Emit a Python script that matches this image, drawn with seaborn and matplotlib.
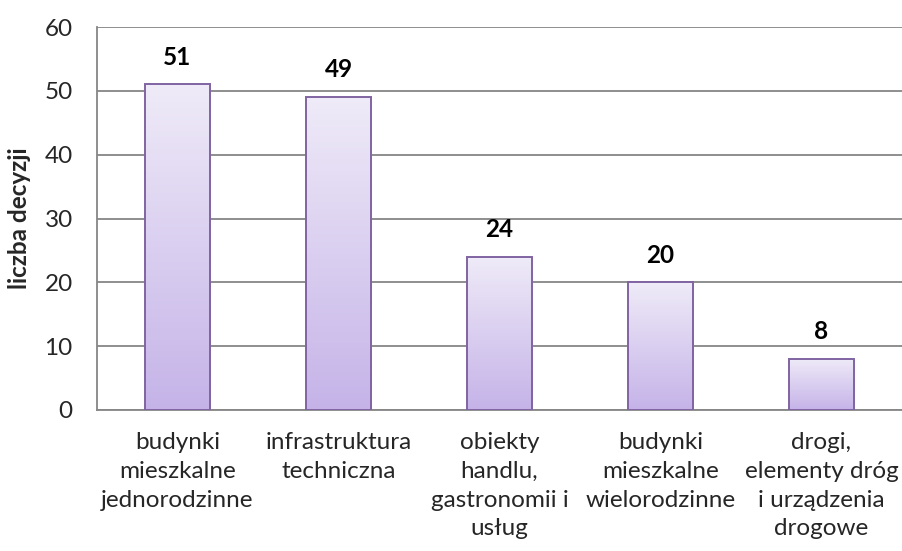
import numpy as np
import pandas as pd
import matplotlib
matplotlib.use("Agg")
import matplotlib.pyplot as plt
import seaborn as sns
from matplotlib.colors import LinearSegmentedColormap

categories = ["budynki\nmieszkalne\njednorodzinne",
              "infrastruktura\ntechniczna",
              "obiekty\nhandlu,\ngastronomii i\nusług",
              "budynki\nmieszkalne\nwielorodzinne",
              "drogi,\nelementy dróg\ni urządzenia\ndrogowe"]
values = [51, 49, 24, 20, 8]

df = pd.DataFrame({"kat": categories, "n": values})

sns.set_style("white")
plt.rcParams['font.family'] = ['Lato', 'DejaVu Sans']
fs = 17.5

fig = plt.figure(figsize=(9.03, 5.51), dpi=100)
# axes: x 97..902 px, y 27..410 px
ax = fig.add_axes([97 / 903, 1 - 410 / 551, 805 / 903, 383 / 551])

sns.barplot(data=df, x="kat", y="n", ax=ax, width=0.405,
            color="#d9cdf0", edgecolor="#8064a2", linewidth=1.4, zorder=3)

# gradient fill inside each bar
cmap = LinearSegmentedColormap.from_list("g", ["#c5b3e8", "#efebf8"])
grad = np.linspace(0, 1, 256).reshape(-1, 1)
for p in ax.patches:
    x0, y0 = p.get_x(), p.get_y()
    w, h = p.get_width(), p.get_height()
    im = ax.imshow(grad, cmap=cmap, aspect="auto", origin="lower",
                   extent=[x0, x0 + w, y0, y0 + h], zorder=3.5)
    im.set_clip_path(p)
    p.set_facecolor("none")
    p.set_zorder(4)
ax.set_xlim(-0.5, len(categories) - 0.5)
ax.set_ylim(0, 60)
ax.set_yticks(range(0, 61, 10))

for i, v in enumerate(values):
    ax.text(i, v + 3.1, str(v), ha="center", va="baseline",
            fontsize=fs, fontweight="bold", color="black")

ax.grid(axis="y", color="#868686", linewidth=1.3, zorder=0)
ax.set_axisbelow(True)
for s in ["top", "right"]:
    ax.spines[s].set_visible(False)
for s in ["left", "bottom"]:
    ax.spines[s].set_color("#868686")
    ax.spines[s].set_linewidth(1.3)

ax.set_xticks(np.arange(-0.5, len(categories), 1.0), minor=True)
ax.tick_params(axis="x", which="major", length=0, pad=16, labelsize=fs)
ax.tick_params(axis="x", which="minor", length=5.5, color="#868686", width=1.3)
ax.tick_params(axis="y", length=5.5, color="#868686", width=1.3, labelsize=fs, pad=12)
ax.set_xticklabels(categories, linespacing=1.45, va="top")

ax.set_xlabel("")
ax.set_ylabel("liczba decyzji", fontsize=fs, fontweight="bold", labelpad=10)

fig.savefig("out.png", dpi=100)
